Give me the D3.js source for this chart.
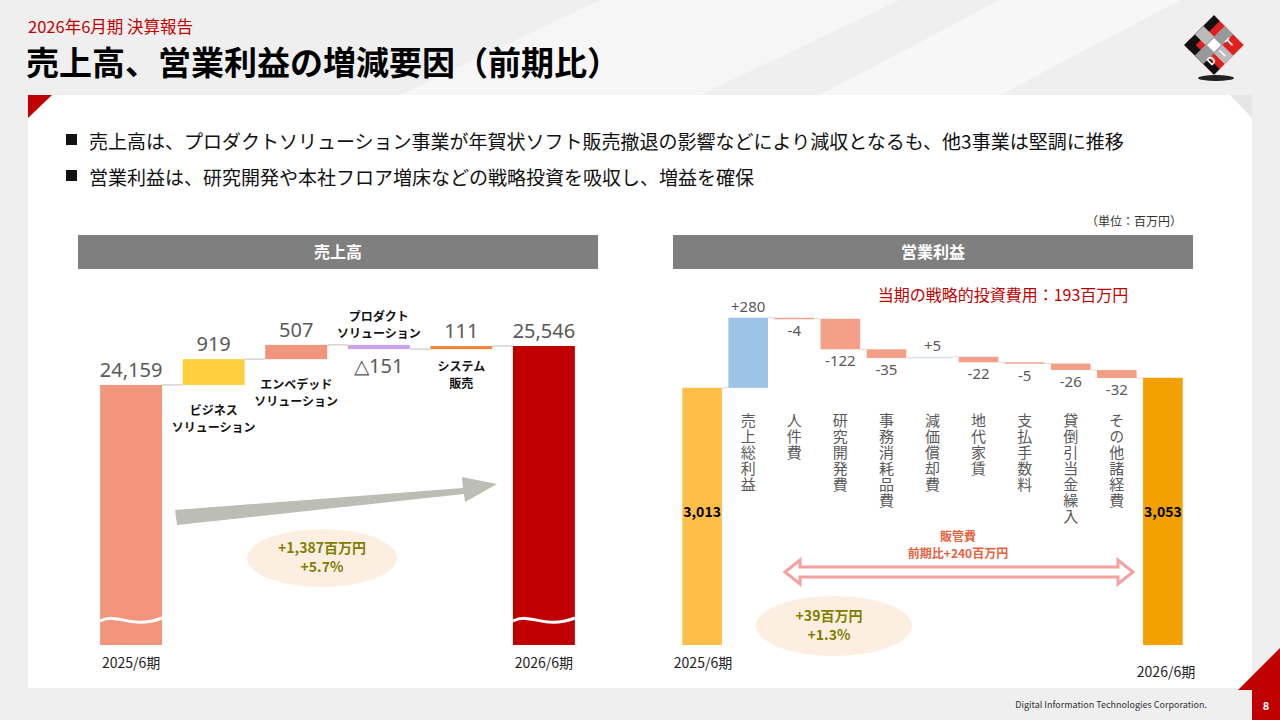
<!DOCTYPE html>
<html><head><meta charset="utf-8">
<script src="https://cdn.jsdelivr.net/npm/d3@7"></script>
<style>body{margin:0}svg{display:block;font-family:"Noto Sans CJK JP","Noto Sans",sans-serif}</style>
</head><body><svg id="c" width="1280" height="720"></svg>
<script>
// data
const salesCats = ["2025/6期", "ビジネス", "エンベデッド", "プロダクト", "システム", "2026/6期"];
const salesDeltas = [24159, 919, 507, -151, 111, 25546];
const salesColors = ["#f1967c", "#ffcf40", "#f1967c", "#c9a2ea", "#f3853a", "#c00000"];
const salesLabels = ["24,159", "919", "507", "△151", "111", "25,546"];
const salesNames = [null, ["ビジネス", "ソリューション"], ["エンベデッド", "ソリューション"], ["プロダクト", "ソリューション"], ["システム", "販売"], null];

const opCats = ["2025/6期", "売上総利益", "人件費", "研究開発費", "事務消耗品費", "減価償却費", "地代家賃", "支払手数料", "貸倒引当金繰入", "その他諸経費", "2026/6期"];
const opDeltas = [3013, 280, -4, -122, -35, 5, -22, -5, -26, -32, 3053];
const opLabels = ["3,013", "+280", "-4", "-122", "-35", "+5", "-22", "-5", "-26", "-32", "3,053"];

const svg = d3.select("#c");
// background
svg.append("rect").attr("width",1280).attr("height",720).attr("fill","#efefef");
svg.append("path").attr("d","M600,0 L900,0 L700,95 L400,95Z").attr("fill","#f6f6f6");
svg.append("path").attr("d","M1000,0 L1180,0 L1000,95 L820,95Z").attr("fill","#f7f7f7");
svg.append("rect").attr("x",28).attr("y",95).attr("width",1224).attr("height",593).attr("fill","#fff");
svg.append("path").attr("d","M28,95 L52,95 L28,118Z").attr("fill","#c00000");
svg.append("path").attr("d","M1252,95 L1252,118 L1230,95Z").attr("fill","#e6e6e6");
svg.append("path").attr("d","M1280,648 L1280,690 L1238,690Z").attr("fill","#c00000");
svg.append("rect").attr("x",1252).attr("y",690).attr("width",28).attr("height",30).attr("fill","#c00000");
svg.append("text").attr("x",1266).attr("y",710).attr("text-anchor","middle").attr("fill","#fff").attr("font-size",11).attr("font-weight","bold").text("8");
svg.append("text").attr("x",1207).attr("y",708).attr("text-anchor","end").attr("fill","#333").attr("font-size",9).text("Digital Information Technologies Corporation.");

// logo
const logo = svg.append("g").attr("transform","translate(1214,45) rotate(-45)");
logo.append("rect").attr("x",-21).attr("y",-21).attr("width",42).attr("height",42).attr("fill","#e02020");
logo.append("rect").attr("x",-21).attr("y",-21).attr("width",42).attr("height",8).attr("fill","#111");
logo.append("rect").attr("x",-21).attr("y",-21).attr("width",8).attr("height",42).attr("fill","#111");
logo.append("rect").attr("x",-6).attr("y",-21).attr("width",12).attr("height",42).attr("fill","#bbb");
logo.append("rect").attr("x",-21).attr("y",-6).attr("width",42).attr("height",12).attr("fill","#999");
logo.append("rect").attr("x",-5).attr("y",-5).attr("width",10).attr("height",10).attr("fill","#fff");
[["D",-13,13],["I",0,16],["T",13,13]].forEach(([t,x,y])=>logo.append("text").attr("x",x).attr("y",y).attr("text-anchor","middle").attr("fill","#fff").attr("font-size",11).attr("font-weight","bold").text(t));
svg.append("ellipse").attr("cx",1216).attr("cy",78).attr("rx",18).attr("ry",3).attr("fill","#222");

// header
svg.append("text").attr("x",28).attr("y",33).attr("fill","#c00000").attr("font-size",16.5).text("2026年6月期  決算報告");
svg.append("text").attr("x",26).attr("y",75).attr("fill","#000").attr("font-size",33).attr("font-weight","bold").text("売上高、営業利益の増減要因（前期比）");
const bullets = ["売上高は、プロダクトソリューション事業が年賀状ソフト販売撤退の影響などにより減収となるも、他3事業は堅調に推移","営業利益は、研究開発や本社フロア増床などの戦略投資を吸収し、増益を確保"];
bullets.forEach((b,i)=>{
  svg.append("rect").attr("x",66).attr("y",134+i*36).attr("width",11).attr("height",11).attr("fill","#111");
  svg.append("text").attr("x",89).attr("y",149+i*36).attr("font-size",19).attr("fill","#111").text(b);
});
svg.append("text").attr("x",1182).attr("y",226).attr("text-anchor","end").attr("font-size",12).attr("fill","#333").text("（単位：百万円）");
[[78,"売上高"],[673,"営業利益"]].forEach(([x,t])=>{
  svg.append("rect").attr("x",x).attr("y",235).attr("width",520).attr("height",34).attr("fill","#7f7f7f");
  svg.append("text").attr("x",x+260).attr("y",258).attr("text-anchor","middle").attr("fill","#fff").attr("font-size",16).attr("font-weight","bold").text(t);
});

// waterfall helper
function steps(deltas){
  let cum=0; return deltas.map((d,i)=>{
    if(i===0){cum=d;return {lo:0,hi:d,start:d,end:d};}
    if(i===deltas.length-1){return {lo:0,hi:d,start:d,end:d};}
    const s=cum; cum+=d; return {lo:Math.min(s,cum),hi:Math.max(s,cum),start:s,end:cum};
  });
}
function wave(g,x0,x1,y){
  const w=x1-x0;
  g.append("path").attr("d",`M${x0},${y} C${x0+w*0.3},${y-9} ${x0+w*0.5},${y+9} ${x1},${y-3}`)
   .attr("fill","none").attr("stroke","#fff").attr("stroke-width",3);
}

// ---- sales chart
const sx = d3.scaleBand().domain(salesCats).range([96,579]).paddingInner(0.25).paddingOuter(0.05);
const sy = d3.scaleLinear().domain([14900,25546]).range([645,346]);
const sSteps = steps(salesDeltas);
const gs = svg.append("g");
sSteps.forEach((s,i)=>{
  const x=sx(salesCats[i]), w=sx.bandwidth();
  const top=sy(s.hi), bot = (i===0||i===salesCats.length-1)?645:sy(s.lo);
  gs.append("rect").attr("x",x).attr("y",top).attr("width",w).attr("height",Math.max(bot-top,3)).attr("fill",salesColors[i]);
  if(i<salesCats.length-1){
    gs.append("line").attr("x1",x+w).attr("x2",sx(salesCats[i+1])).attr("y1",sy(s.end)).attr("y2",sy(s.end)).attr("stroke","#bfbfbf");
  }
  const cx=x+w/2;
  let ly = salesDeltas[i]<0 ? sy(s.lo)+24 : top-8;
  gs.append("text").attr("x",cx).attr("y",ly).attr("text-anchor","middle").attr("font-size",20).attr("fill","#595959").attr("font-family","Noto Sans,sans-serif").text(salesLabels[i]);
  if(salesNames[i]){
    const above = salesDeltas[i]<0;
    const by = above ? top-24 : (i===4? sy(s.lo)+22 : sy(s.lo)+30);
    salesNames[i].forEach((n,j)=>gs.append("text").attr("x",cx).attr("y",by+j*17).attr("text-anchor","middle").attr("font-size",12).attr("font-weight","bold").attr("fill","#111").text(n));
  }
  if(i===0||i===salesCats.length-1){
    wave(gs,x,x+w,621);
    gs.append("text").attr("x",cx).attr("y",668).attr("text-anchor","middle").attr("font-size",14).attr("fill","#222").text(salesCats[i]);
  }
});
// grey arrow
gs.append("path").attr("d","M175,510 L463,488 L462,477 L497,484 L465,502 L464,494 L177,525Z").attr("fill","#bcbdb4");
gs.append("ellipse").attr("cx",322).attr("cy",558).attr("rx",75).attr("ry",29).attr("fill","#fdeee2");
gs.append("text").attr("x",322).attr("y",553).attr("text-anchor","middle").attr("font-size",14).attr("font-weight","bold").attr("fill","#7f7f00").text("+1,387百万円");
gs.append("text").attr("x",322).attr("y",572).attr("text-anchor","middle").attr("font-size",14).attr("font-weight","bold").attr("fill","#7f7f00").text("+5.7%");

// ---- operating profit chart
const ox = d3.scaleBand().domain(opCats).range([680,1185]).paddingInner(0.14).paddingOuter(0.05);
const oy = d3.scaleLinear().domain([1985,3300]).range([645,316]);
const oSteps = steps(opDeltas);
const go = svg.append("g");
oSteps.forEach((s,i)=>{
  const x=ox(opCats[i]), w=ox.bandwidth(), last=opCats.length-1;
  const top=oy(s.hi), bot=(i===0||i===last)?645:oy(s.lo);
  let col = i===0?"#ffbe48": i===last?"#f2a100": i===1?"#9dc3e6": opDeltas[i]>0?"#cfe2ec":"#f4a088";
  go.append("rect").attr("x",x).attr("y",top).attr("width",w).attr("height",Math.max(bot-top,1.5)).attr("fill",col);
  if(i<last) go.append("line").attr("x1",x+w).attr("x2",ox(opCats[i+1])).attr("y1",oy(s.end)).attr("y2",oy(s.end)).attr("stroke","#d9d9d9");
  const cx=x+w/2;
  if(i===0||i===last){
    go.append("text").attr("x",cx).attr("y",517).attr("text-anchor","middle").attr("font-size",14).attr("font-weight","bold").attr("fill","#000").text(opLabels[i]);
  } else {
    const ly = opDeltas[i]<0 ? oy(s.lo)+17 : top-6;
    go.append("text").attr("x",cx).attr("y",ly).attr("text-anchor","middle").attr("font-size",15).attr("fill","#595959").attr("font-family","Noto Sans,sans-serif").text(opLabels[i]);
    go.append("text").attr("x",cx).attr("y",413).attr("font-size",15).attr("fill","#595959").style("writing-mode","vertical-rl").style("text-orientation","upright").attr("letter-spacing",1).text(opCats[i]);
  }
});
go.append("text").attr("x",703).attr("y",668).attr("text-anchor","middle").attr("font-size",14).attr("fill","#222").text(opCats[0]);
go.append("text").attr("x",1166).attr("y",677).attr("text-anchor","middle").attr("font-size",14).attr("fill","#222").text(opCats[10]);
go.append("text").attr("x",1003).attr("y",301).attr("text-anchor","middle").attr("font-size",16).attr("fill","#c00000").text("当期の戦略的投資費用：193百万円");
go.append("text").attr("x",958).attr("y",541).attr("text-anchor","middle").attr("font-size",12).attr("font-weight","bold").attr("fill","#e8603c").text("販管費");
go.append("text").attr("x",958).attr("y",558).attr("text-anchor","middle").attr("font-size",12).attr("font-weight","bold").attr("fill","#e8603c").text("前期比+240百万円");
go.append("path").attr("d","M785,572 L800,560 L800,567 L1118,567 L1118,560 L1133,572 L1118,584 L1118,577 L800,577 L800,584Z")
  .attr("fill","#fff").attr("stroke","#f4a0a0").attr("stroke-width",3);
go.append("ellipse").attr("cx",834).attr("cy",626).attr("rx",78).attr("ry",30).attr("fill","#fdeee2");
go.append("text").attr("x",829).attr("y",621).attr("text-anchor","middle").attr("font-size",14).attr("font-weight","bold").attr("fill","#7f7f00").text("+39百万円");
go.append("text").attr("x",829).attr("y",640).attr("text-anchor","middle").attr("font-size",14).attr("font-weight","bold").attr("fill","#7f7f00").text("+1.3%");
</script></body></html>
